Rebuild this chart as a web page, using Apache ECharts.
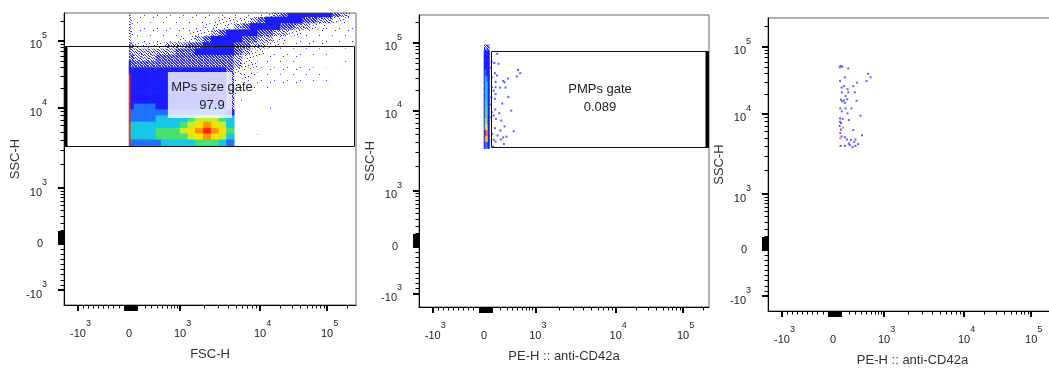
<!DOCTYPE html>
<html><head><meta charset="utf-8">
<script src="https://cdn.jsdelivr.net/npm/echarts@6/dist/echarts.min.js"></script>
<style>html,body{margin:0;padding:0;background:#fff}#c{width:1049px;height:370px}</style>
</head><body><div id="c"></div>
<script>
// ---------------- DATA ----------------
const tickLabelValues = [-1000, 0, 1000, 10000, 100000];
const tickLabelBase = ['-10', '0', '10', '10', '10'];
const tickLabelSup = ['3', '', '3', '4', '5'];
const majorTickValues = [-1000, -90, -80, -70, -60, -50, -40, -30, -20, -10, 0, 10, 20, 30, 40, 50, 60, 70, 80, 90, 1000, 10000, 100000];
const minorTickValues = [-900, -800, -700, -600, -500, -400, -300, -200, -100, 100, 200, 300, 400, 500, 600, 700, 800, 900,
  2000, 3000, 4000, 5000, 6000, 7000, 8000, 9000, 20000, 30000, 40000, 50000, 60000, 70000, 80000, 90000, 200000];

// panel 1 density (FSC-H x SSC-H): bin edges and levels (rows top -> bottom, one char per FSC bin)
const fscEdges = [0, 20, 60, 130, 200, 280, 370, 470, 580, 700, 850, 1000, 1250, 1550, 1950, 2450, 3050, 3800, 4750, 6000,
  7500, 9300, 12000, 15500, 20000, 26000, 33000, 43000, 56000, 72000, 93000, 120000, 155000, 200000, 262144];
const sscEdges = [3350, 4000, 4750, 5600, 6700, 8000, 9500, 11500, 14000, 17000, 21000, 26000, 32000, 40000, 50000,
  62000, 77000, 95000, 118000, 147000, 183000, 228000, 262144];
const panel1Density = [
  '3|2 11111 11111 11111 11111 2 3 4 555555 4 3 2',
  '3|2 11111 11111 1111 2222 3 4 55555 44 33 22 1',
  '3|2 11111 11111 11 2222 3 4 5555 44 33 22 1111',
  '3|2 11111 11111 222 3 4 5555 44 33 22 1111111',
  '3|2 11111 111 222 3 4 5555 44 33 22 1111111 0 1',
  '4|3 222222 333 3 44 5555 44 33 22 1111111 010',
  '4|3 3333 3333 444 55555 4 3 22 1111111 0 1 000',
  '4|4 3333 444444 444444 3 22 111111 0 1 00000',
  '5|44444 44444 44444 44 3 22 111111 0100010',
  '5|55555 55555 55555 5 4 2 121111111001000',
  'c|55555 55555 55555 5 4 1211111111010000',
  'c|55555 55555 55555 5 4 1111111110101000',
  'c|55555 55555 55555 5 4 1110110000000000',
  'c|55555 55555 55555 5 4 1000000000000000',
  'c|55555 55555 55555 5 4 1000000000000000',
  'c|56666 55555 55555 5 4 0000100000000000',
  'c|66666 66666 66666 6 5 0000000000000000',
  'c|66666 777777 89998 7 0000000000000000',
  'c|77777 77777 8 9aba9 7 0000000000000000',
  'c|77777 88888 9 abcba 8 0000000000000000',
  'c|77777 88888 8 9aba9 7 0001000000000000',
  'c|666666 77777 78887 6 0000000000000000'
];

// panel 2 density (PE-H x SSC-H)
const peEdges = [0, 12, 30, 48, 65];
const panel2Density = ['0000', '0000', '0000', '0000', '0000', '4444', '5555', '5555', '5555', '5655', '5765',
  '5775', '5775', '5775', '5875', '5885', '5885', '5985', '5a95', '5cb5', '5ba5', '5665'];
const panel2Events = [[162, 69000], [91, 53000], [124, 50400], [180, 49000], [71, 43000], [507, 39800], [556, 35600],
  [132, 35600], [480, 31800], [158, 32900], [95, 30600], [141, 26400], [245, 27200], [265, 26000], [318, 29700],
  [95, 22000], [141, 22000], [202, 21700], [280, 21700], [116, 19500], [141, 17500], [323, 15800], [87, 15600],
  [132, 14800], [230, 12600], [71, 12200], [375, 9900], [136, 10300], [95, 9500], [189, 9200], [116, 8650],
  [87, 8200], [145, 7800], [218, 7460], [265, 6300], [132, 6000], [205, 5610], [420, 5500], [99, 5100],
  [167, 4860], [245, 4600], [295, 4700], [210, 4330], [116, 4290], [141, 4080], [255, 3800], [63, 4220], [111, 3530]];

// panel 3 events (PE-H x SSC-H, gated)
const panel3Events = [[91, 52000], [111, 50700], [80, 49500], [190, 47800], [535, 39600], [590, 35200], [145, 35200],
  [84, 31100], [500, 31100], [322, 29300], [262, 26000], [136, 26000], [103, 24800], [180, 23400], [107, 21000],
  [190, 21000], [285, 21000], [154, 18500], [175, 16600], [95, 16300], [132, 15900], [111, 15400], [313, 15700],
  [145, 14600], [87, 12100], [154, 12100], [235, 12100], [107, 10900], [180, 10200], [380, 9500], [84, 8800],
  [116, 8680], [84, 8000], [198, 8400], [95, 7700], [80, 7080], [95, 6400], [87, 5770], [103, 5230], [145, 5120],
  [262, 6300], [410, 5420], [171, 4800], [226, 4720], [295, 4800], [275, 4480], [198, 4280], [340, 4200],
  [91, 3990], [145, 3990], [210, 4090], [250, 3850], [295, 3990]];
const panel3HotEvents = [[124, 6780], [95, 6300], [87, 4960]];

// gates
const gateNames = ['MPs size gate', 'PMPs gate'];
const gateFreqs = ['97.9', '0.089'];
const gateX = [[-1275, 262144], [83, 262144]];
const gateY = [[3350, 84000], [3500, 76000]];
const gateLabelAt = [[2510, 20500, 11100], [6380, 20700, 11200]];
const gate1LabelBox = [625, 4470, 7500, 34400];

// ---------------- SCALE (biexponential-like display transform) ----------------
const K = 3, AS = Math.asinh(K);
function T(v) {
  if (v < 0) return v / 1000;
  if (v <= 1000) return Math.asinh(K * v / 1000) / AS;
  const l = Math.log10(v);
  if (l <= 4) return 1 + 1.569 * (l - 3);
  return 2.569 + 1.314 * (l - 4);
}

const FONT = '"Liberation Sans", Arial, Helvetica, sans-serif';

// speckle textures for the sparse density levels (style only)
function speckle(size, dots, bg) {
  const c = document.createElement('canvas');
  c.width = c.height = size;
  const g = c.getContext('2d');
  if (bg) { g.fillStyle = bg; g.fillRect(0, 0, size, size); }
  g.fillStyle = '#2424ff';
  dots.forEach(d => g.fillRect(d[0], d[1], 1, 1));
  return {image: c, repeat: 'repeat'};
}
const levelColors = {
  1: speckle(13, [[1, 2], [7, 9], [10, 4]], null),
  2: speckle(11, [[0, 1], [4, 6], [8, 2], [6, 10], [2, 8], [9, 7], [5, 3], [10, 9], [3, 0], [7, 5]], null),
  3: speckle(9, [[0, 0], [3, 0], [6, 0], [7, 0], [1, 1], [4, 1], [8, 1], [2, 2], [5, 2], [6, 2], [0, 3], [3, 3], [7, 3],
    [1, 4], [4, 4], [5, 4], [8, 4], [2, 5], [6, 5], [0, 6], [3, 6], [4, 6], [7, 6], [1, 7], [5, 7], [8, 7], [2, 8], [4, 8], [6, 8]], null),
  4: speckle(6, [[0, 0], [1, 0], [3, 0], [4, 0], [1, 1], [2, 1], [4, 1], [5, 1], [0, 2], [2, 2], [3, 2], [5, 2],
    [0, 3], [1, 3], [3, 3], [4, 3], [1, 4], [2, 4], [5, 4], [0, 5], [2, 5], [3, 5], [4, 5]], '#e6e7ff'),
  5: '#1c1cff', 6: '#1d72ff', 7: '#18c6e6', 8: '#48e070', 9: '#c4ee2a', 10: '#ffe000', 11: '#ff9400', 12: '#ff2a00'};

const panels = [
  {left: 64, top: 13, width: 292, height: 292, xMin: -1.275, xMax: 4.45, yMin: -1.294, yMax: 4.431, xName: 'FSC-H', yGap: 42},
  {left: 419, top: 15, width: 290, height: 292, xMin: -1.268, xMax: 4.389, yMin: -1.268, yMax: 4.428, xName: 'PE-H :: anti-CD42a', yGap: 40},
  {left: 768, top: 18, width: 289, height: 293, xMin: -1.275, xMax: 4.39, yMin: -1.294, yMax: 4.45, xName: 'PE-H :: anti-CD42a', yGap: 41}
];

function labelIndex(val) {
  let best = 0, bd = 1e9;
  tickLabelValues.forEach((v, i) => { const d = Math.abs(T(v) - val); if (d < bd) { bd = d; best = i; } });
  return best;
}
const rich = {
  b: {fontSize: 11, fontFamily: FONT, color: '#222', lineHeight: 12, verticalAlign: 'bottom'},
  s: {fontSize: 9, fontFamily: FONT, color: '#222', lineHeight: 10, verticalAlign: 'top'},
  p: {width: 5, lineHeight: 20},
  h: {width: 1, lineHeight: 20}
};
function xFmt(val) {
  const i = labelIndex(val);
  return tickLabelSup[i] ? '{p| }{b|' + tickLabelBase[i] + '}{s|' + tickLabelSup[i] + '}' : '{h| }{b|' + tickLabelBase[i] + '}{h| }';
}
function yFmt(val) {
  const i = labelIndex(val);
  return tickLabelSup[i] ? '{b|' + tickLabelBase[i] + '}{s|' + tickLabelSup[i] + '}{h| }' : '{b|' + tickLabelBase[i] + '}{p| }';
}

const grid = [], xAxis = [], yAxis = [], series = [];
panels.forEach((p, i) => {
  grid.push({left: p.left, top: p.top, width: p.width, height: p.height, show: true, borderColor: '#666', borderWidth: 1,
    containLabel: false, outerBoundsMode: 'none'});
  const common = {type: 'value', gridIndex: i, splitLine: {show: false}};
  xAxis.push(Object.assign({}, common, {position: 'bottom', min: p.xMin, max: p.xMax,
    axisLine: {show: true, onZero: false, lineStyle: {color: '#000', width: 1}},
    axisTick: {show: true, customValues: majorTickValues.map(T), length: 6, lineStyle: {color: '#000', width: 2}},
    axisLabel: {show: true, customValues: tickLabelValues.map(T), formatter: xFmt, rich: rich, margin: 14},
    name: p.xName, nameLocation: 'middle', nameGap: 43,
    nameTextStyle: {fontSize: 13, color: '#333', fontFamily: FONT}}));
  xAxis.push(Object.assign({}, common, {position: 'bottom', min: p.xMin, max: p.xMax,
    axisLine: {show: false, onZero: false},
    axisTick: {show: true, customValues: minorTickValues.map(T), length: 3.5, lineStyle: {color: '#000', width: 1}},
    axisLabel: {show: false}}));
  yAxis.push(Object.assign({}, common, {position: 'left', min: p.yMin, max: p.yMax,
    axisLine: {show: true, onZero: false, lineStyle: {color: '#000', width: 1}},
    axisTick: {show: true, customValues: majorTickValues.map(T), length: 6, lineStyle: {color: '#000', width: 2}},
    axisLabel: {show: true, customValues: tickLabelValues.map(T), formatter: yFmt, rich: rich, margin: 16},
    name: 'SSC-H', nameLocation: 'middle', nameGap: p.yGap,
    nameTextStyle: {fontSize: 13, color: '#333', fontFamily: FONT}}));
  yAxis.push(Object.assign({}, common, {position: 'left', min: p.yMin, max: p.yMax,
    axisLine: {show: false, onZero: false},
    axisTick: {show: true, customValues: minorTickValues.map(T), length: 3.5, lineStyle: {color: '#000', width: 1}},
    axisLabel: {show: false}}));
});

function densityItems(xEdges, yEdges, rows) {
  const out = [];
  const nR = rows.length;
  rows.forEach((row, r) => {
    const s = row.replace(/[\s|]/g, '');
    for (let c = 0; c < s.length && c < xEdges.length - 1; c++) {
      const lv = parseInt(s[c], 16);
      if (!lv) continue;
      out.push([T(xEdges[c]), T(yEdges[nR - r - 1]), T(xEdges[c + 1]), T(yEdges[nR - r]), lv]);
    }
  });
  return out;
}
function densitySeries(axisIdx, data) {
  return {
    type: 'custom', xAxisIndex: axisIdx, yAxisIndex: axisIdx, clip: true, silent: true, z: 2,
    encode: {x: [0, 2], y: [1, 3]}, data: data,
    renderItem: (params, api) => {
      const a = api.coord([api.value(0), api.value(1)]);
      const b = api.coord([api.value(2), api.value(3)]);
      const lv = api.value(4);
      const pad = lv >= 5 ? 0.3 : 0;
      const x = Math.min(a[0], b[0]), y = Math.min(a[1], b[1]);
      return {type: 'rect', shape: {x: x - pad, y: y - pad, width: Math.abs(b[0] - a[0]) + 2 * pad, height: Math.abs(b[1] - a[1]) + 2 * pad},
        style: {fill: levelColors[lv]}};
    }
  };
}
function scatterSeries(axisIdx, pts, color) {
  return {type: 'scatter', xAxisIndex: axisIdx, yAxisIndex: axisIdx, symbol: 'rect', symbolSize: 2, silent: true, z: 3,
    itemStyle: {color: color}, data: pts.map(d => [T(d[0]), T(d[1])])};
}
function gateSeries(g, axisIdx) {
  return {
    type: 'custom', xAxisIndex: axisIdx, yAxisIndex: axisIdx, clip: false, silent: true, z: 5,
    encode: {x: [0, 2], y: [1, 3]},
    data: [[T(gateX[g][0]), T(gateY[g][0]), T(gateX[g][1]), T(gateY[g][1])]],
    renderItem: (params, api) => {
      const cs = params.coordSys;
      const a = api.coord([api.value(0), api.value(1)]);
      const b = api.coord([api.value(2), api.value(3)]);
      const x0 = Math.round(Math.max(cs.x, Math.min(a[0], b[0]))) + 0.5;
      const x1 = Math.round(Math.min(cs.x + cs.width, Math.max(a[0], b[0]))) - 0.5;
      const y0 = Math.round(Math.min(a[1], b[1])) + 0.5;
      const y1 = Math.round(Math.max(a[1], b[1])) + 0.5;
      const children = [];
      if (g === 0) {
        const p = api.coord([T(gate1LabelBox[0]), T(gate1LabelBox[3])]);
        const q = api.coord([T(gate1LabelBox[1]), T(gate1LabelBox[2])]);
        children.push({type: 'rect', shape: {x: p[0], y: p[1], width: q[0] - p[0], height: q[1] - p[1]},
          style: {fill: 'rgba(255,255,255,0.8)'}});
      }
      children.push({type: 'rect', shape: {x: x0, y: y0, width: x1 - x0, height: y1 - y0},
        style: {fill: 'none', stroke: '#111', lineWidth: 1}});
      const tx = g === 0 ? x0 + 1.5 : x1 - 1.5;
      children.push({type: 'line', shape: {x1: tx, y1: y0, x2: tx, y2: y1}, style: {stroke: '#000', lineWidth: 3}});
      const l1 = api.coord([T(gateLabelAt[g][0]), T(gateLabelAt[g][1])]);
      const l2 = api.coord([T(gateLabelAt[g][0]), T(gateLabelAt[g][2])]);
      children.push({type: 'text', x: l1[0], y: l1[1], style: {text: gateNames[g], fill: '#222', font: '13px ' + FONT, align: 'center', verticalAlign: 'middle'}});
      children.push({type: 'text', x: l2[0], y: l2[1], style: {text: gateFreqs[g], fill: '#222', font: '13px ' + FONT, align: 'center', verticalAlign: 'middle'}});
      return {type: 'group', children: children};
    }
  };
}

series.push(densitySeries(0, densityItems(fscEdges, sscEdges, panel1Density)));
series.push(densitySeries(2, densityItems(peEdges, sscEdges, panel2Density)));
series.push(scatterSeries(2, panel2Events, '#3434ff'));
series.push(scatterSeries(4, panel3Events, '#3434ff'));
series.push(scatterSeries(4, panel3HotEvents, '#ff5a1e'));
series.push(gateSeries(0, 0));
series.push(gateSeries(1, 2));

const chart = echarts.init(document.getElementById('c'), null, {renderer: 'canvas'});
chart.setOption({animation: false, backgroundColor: '#fff', grid: grid, xAxis: xAxis, yAxis: yAxis, series: series});
</script>
</body></html>
